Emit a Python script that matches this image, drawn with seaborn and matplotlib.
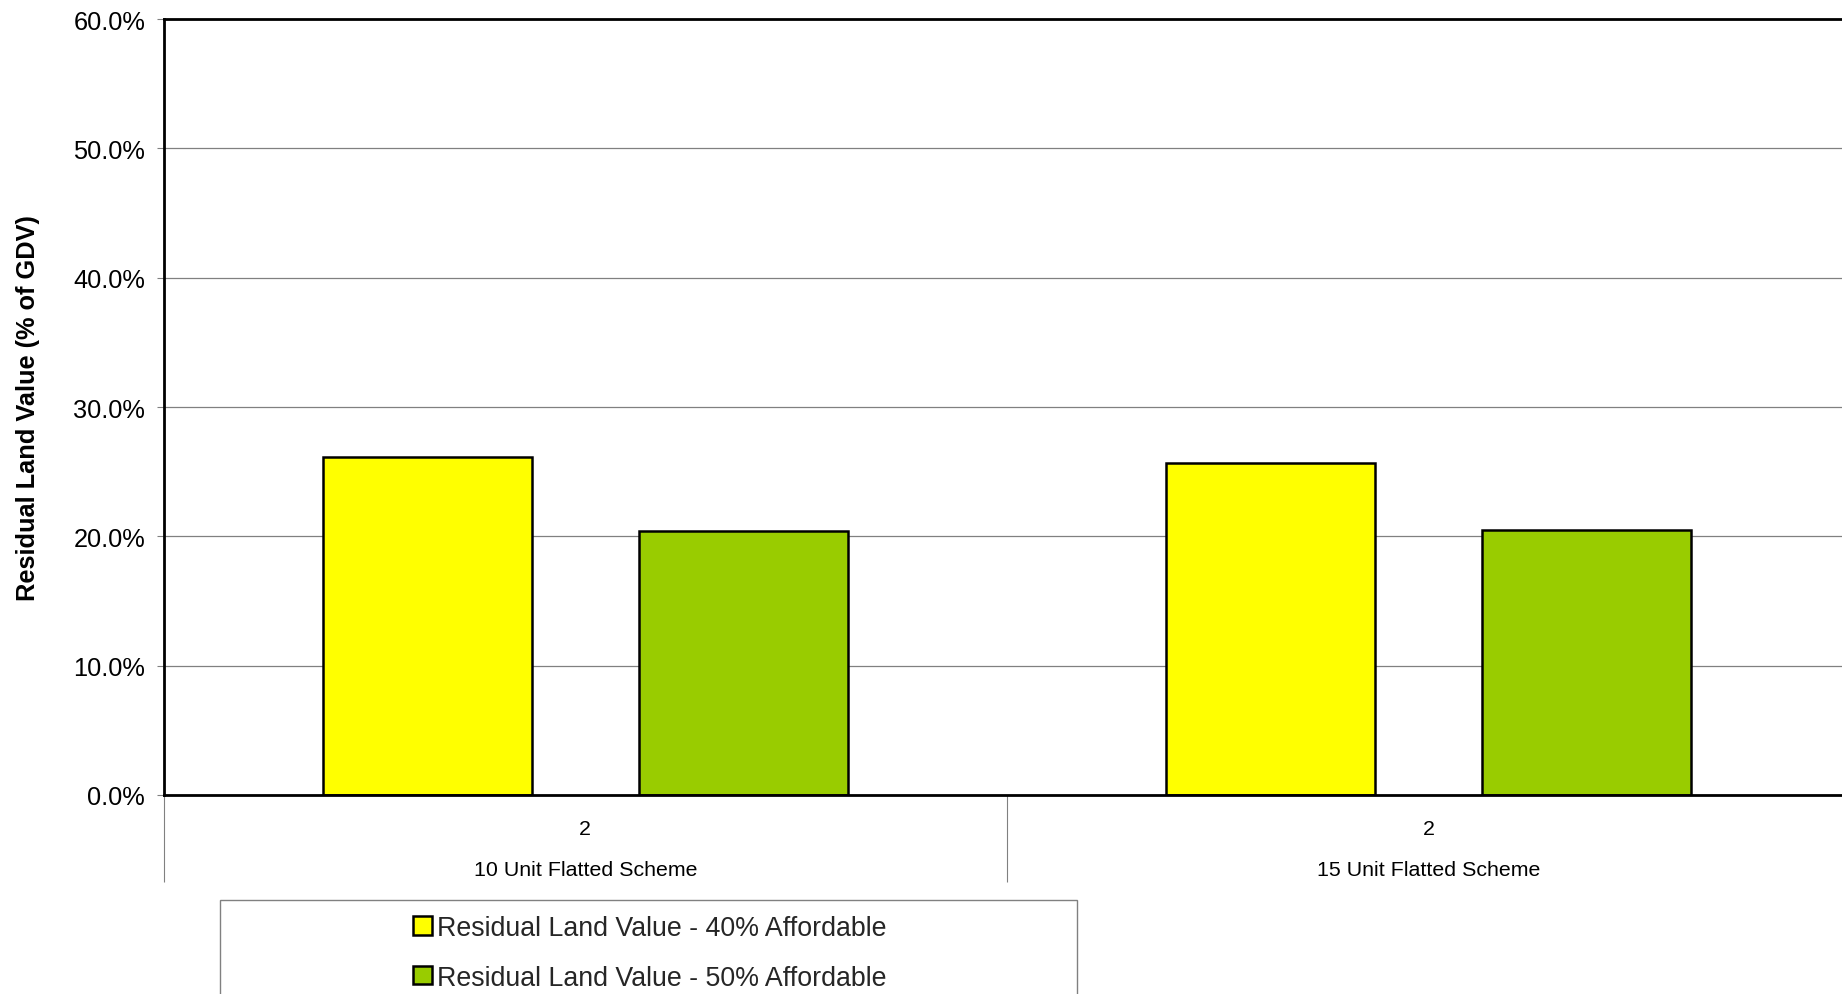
import pandas as pd
import matplotlib
matplotlib.use("Agg")
import matplotlib.pyplot as plt
from matplotlib.patches import Patch, Rectangle
from matplotlib.ticker import PercentFormatter, FixedLocator
import seaborn as sns

# Residual land value as a share of gross development value
schemes = ["10 Unit Flatted Scheme", "15 Unit Flatted Scheme"]
sub_labels = ["2", "2"]
rlv_40 = [0.261, 0.257]
rlv_50 = [0.204, 0.205]
series_names = ["Residual Land Value - 40% Affordable",
                "Residual Land Value - 50% Affordable"]
series_colors = ["#FFFF00", "#99CC00"]
y_ticks = [0.0, 0.1, 0.2, 0.3, 0.4, 0.5, 0.6]

df = pd.DataFrame({
    "scheme": schemes + schemes,
    "series": [series_names[0]] * len(schemes) + [series_names[1]] * len(schemes),
    "value": rlv_40 + rlv_50,
})

sns.set_theme(style="white")
plt.rcParams["font.family"] = ["Liberation Sans", "DejaVu Sans"]

W, H = 1842, 995
fig = plt.figure(figsize=(W / 100, H / 100), dpi=100)
fig.patch.set_facecolor("white")

# plot area; the second category runs slightly past the right edge of the canvas
cat_w = 843.3
ax = fig.add_axes([163.7 / W, (H - 796) / H, 2 * cat_w / W, 776 / H])
ax.set_facecolor("white")

sns.barplot(data=df, x="scheme", y="value", hue="series", order=schemes,
            hue_order=series_names, palette=series_colors, width=0.75,
            gap=0.339, saturation=1, edgecolor="black", linewidth=1.8,
            errorbar=None, legend=False, ax=ax, zorder=3)

ax.set_xlim(-0.5, 1.5)
ax.set_ylim(0, 0.6)

# y axis
ax.yaxis.set_major_locator(FixedLocator(y_ticks))
ax.yaxis.set_major_formatter(PercentFormatter(1.0, decimals=1))
ax.grid(True, axis="y", color="#808080", linewidth=0.9)
ax.grid(False, axis="x")
ax.set_axisbelow(True)
ax.tick_params(axis="y", which="major", direction="out", length=5, width=0.8,
               color="#808080", labelsize=18.3, pad=8.3, labelcolor="black",
               left=True)

# x axis: category dividers as long ticks, sub-labels on minor ticks
ax.set_xticks([-0.5, 0.5, 1.5])
ax.set_xticklabels(["", "", ""])
ax.tick_params(axis="x", which="major", direction="out", length=62.6,
               width=0.8, color="#808080", bottom=True)
ax.set_xticks(range(len(schemes)), minor=True)
ax.set_xticklabels(sub_labels, minor=True)
ax.tick_params(axis="x", which="minor", length=0, pad=17.5, labelsize=15.4,
               labelcolor="black")
for i, name in enumerate(schemes):
    ax.text(i, -0.0966, name, transform=ax.get_xaxis_transform(),
            ha="center", va="center", fontsize=15.4, color="black")

ax.set_xlabel("")
ax.set_ylabel("Residual Land Value (% of GDV)", fontsize=18.3,
              fontweight="bold", color="black")
ax.yaxis.set_label_coords(-0.0731, 0.5)

for side in ["left", "top", "bottom"]:
    ax.spines[side].set_color("black")
    ax.spines[side].set_linewidth(2.0)
    ax.spines[side].set_zorder(4)
ax.spines["right"].set_visible(False)

# legend box, running past the bottom of the canvas
fig.patches.append(Rectangle((220 / W, -0.03), (1077 - 220) / W,
                             (1 - 901 / H) + 0.03, transform=fig.transFigure,
                             fill=False, edgecolor="#808080", linewidth=1))
handles = [Patch(facecolor=c, edgecolor="black", linewidth=1.8)
           for c in series_colors]
fig.legend(handles, series_names, loc="upper center",
           bbox_to_anchor=(650 / W, 1 - 916 / H), frameon=False,
           fontsize=19.3, handlelength=0.71, handleheight=0.67,
           handletextpad=0.19, labelspacing=0.88, borderaxespad=0, borderpad=0)

fig.savefig("out.png", dpi=100)
